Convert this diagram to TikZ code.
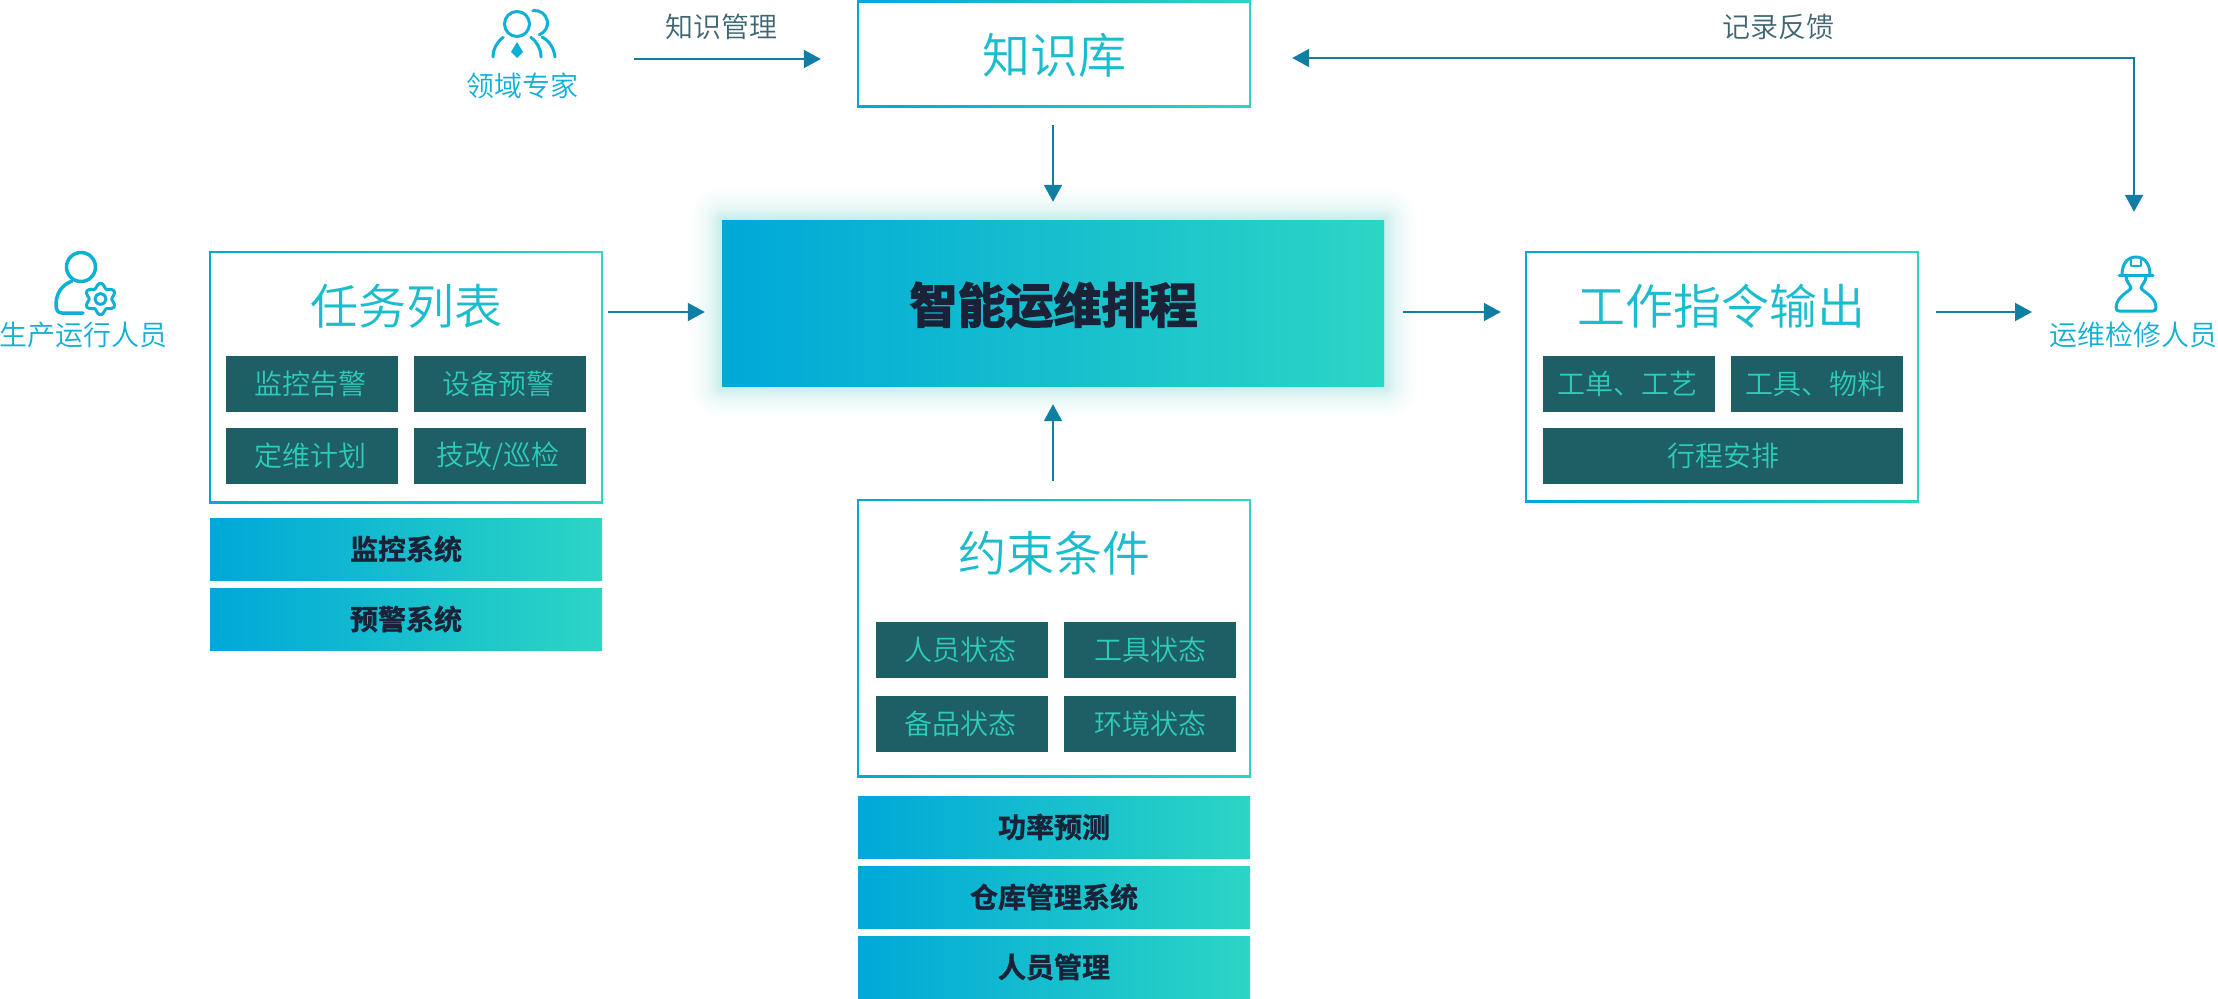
\documentclass[tikz,border=0pt]{standalone}
\usepackage{fontspec}
\usetikzlibrary{arrows.meta}
\newfontfamily\cjk{Noto Sans CJK SC DemiLight}
\newfontfamily\cjkb[FakeBold=1.2]{Noto Sans CJK SC Bold}
\newfontfamily\cjkh[FakeBold=3]{Noto Sans CJK SC Bold}
\definecolor{gl}{HTML}{00A8D8}
\definecolor{gr}{HTML}{2CD5C4}
\definecolor{arr}{HTML}{117EA3}
\definecolor{dk}{HTML}{1E5F66}
\definecolor{chip}{HTML}{2ECBB8}
\definecolor{ink}{HTML}{1A2238}
\definecolor{title}{HTML}{1ABDCD}
\definecolor{lbl}{HTML}{0FB0D6}
\definecolor{note}{HTML}{3F6672}
\tikzset{
  frame/.style={rectangle,inner sep=0pt,left color=gl,right color=gr,
    path picture={\fill[white] ([shift={(2pt,-2pt)}]path picture bounding box.north west) rectangle ([shift={(-2pt,2pt)}]path picture bounding box.south east);}},
  chipbox/.style={rectangle,inner sep=0pt,fill=dk,text=chip,font=\cjk\fontsize{28}{28}\selectfont},
  bar/.style={rectangle,inner sep=0pt,left color=gl,right color=gr,text=ink,font=\cjkb\fontsize{28}{28}\selectfont},
  core/.style={rectangle,inner sep=0pt,left color=gl,right color=gr},
  coretext/.style={inner sep=0pt,text=ink,font=\cjkh\fontsize{48}{48}\selectfont},
  conn/.style={draw=arr,line width=2pt,-{Triangle[length=17pt,width=18pt]}},
  connb/.style={draw=arr,line width=2pt,{Triangle[length=17pt,width=18pt]}-{Triangle[length=17pt,width=18pt]}},
  note/.style={inner sep=0pt,text=note,font=\cjk\fontsize{28}{28}\selectfont},
  who/.style={inner sep=0pt,text=lbl,font=\cjk\fontsize{28}{28}\selectfont},
  icon/.style={draw=lbl,line width=3pt,line cap=round,line join=round},
  hook/.style={inner sep=0pt,minimum width=#1,minimum height=#1},
  frametitle/.style={text=title,font=\cjk\fontsize{48}{48}\selectfont,inner sep=0pt}
}
\newcommand{\bx}[7]{\node[#1,minimum width={(#5-#3)*1pt},minimum height={(#6-#4)*1pt}] (#2) at ({(#3+#5)/2},{(#4+#6)/2}) {#7};}
\begin{document}
\begin{tikzpicture}[x=1pt,y=-1pt]
\useasboundingbox (0,0) rectangle (2218,998);
\fill[white] (0,0) rectangle (2218,998);
% glow
\foreach \i in {1,2,3,4,5,6,7,8,9,10,11,13,15,17,19,22,25,28,32}{
  \fill[gr,opacity=.013,rounded corners={\i*1pt}] (722-\i,220-\i) rectangle (1384+\i,386+\i);
}
\bx{core}{core}{722}{220}{1384}{386}{}
\node[coretext] (coretitle) at (1053.5,305) {智能运维排程};
\bx{frame}{kb}{857}{1}{1251}{107}{}
\bx{frame}{task}{209}{251}{603}{503}{}
\bx{frame}{out}{1525}{251}{1919}{502}{}
\bx{frame}{cons}{857}{499}{1251}{777}{}
\node[frametitle] (kbtitle) at (1054,55) {知识库};
\node[frametitle] (tasktitle) at (406,306) {任务列表};
\node[frametitle] (outtitle) at (1721,306) {工作指令输出};
\node[frametitle] (constitle) at (1054,553) {约束条件};
% task chips
\bx{chipbox}{t1}{226}{356}{398}{412}{监控告警\kern4pt}
\bx{chipbox}{t2}{414}{356}{586}{412}{设备预警\kern4pt}
\bx{chipbox}{t3}{226}{428}{398}{484}{定维计划\kern4pt}
\bx{chipbox}{t4}{414}{428}{586}{484}{技改/巡检\kern4pt}
% output chips
\bx{chipbox}{o1}{1543}{356}{1715}{412}{工单、工艺\kern3pt}
\bx{chipbox}{o2}{1731}{356}{1903}{412}{工具、物料\kern3pt}
\bx{chipbox}{o3}{1543}{428}{1903}{484}{行程安排}
% constraint chips
\bx{chipbox}{c1}{876}{622}{1048}{678}{人员状态\kern4pt}
\bx{chipbox}{c2}{1064}{622}{1236}{678}{工具状态}
\bx{chipbox}{c3}{876}{696}{1048}{752}{备品状态\kern4pt}
\bx{chipbox}{c4}{1064}{696}{1236}{752}{环境状态}
% bars
\bx{bar}{b1}{210}{518}{602}{580}{监控系统}
\bx{bar}{b2}{210}{588}{602}{650}{预警系统}
\bx{bar}{b3}{858}{796}{1250}{858}{功率预测}
\bx{bar}{b4}{858}{866}{1250}{928}{仓库管理系统}
\bx{bar}{b5}{858}{936}{1250}{998}{人员管理}
% labels
\node[who] (expertl) at (522,86) {领域专家};
\node[who] (operl) at (83,335) {生产运行人员};
\node[who] (maintl) at (2133,335) {运维检修人员};
\node[note] (n1) at (721,27) {知识管理};
\node[note] (n2) at (1778,27) {记录反馈};
% icon anchors
\node[hook=44pt] (experti) at (522,36) {};
\node[hook=44pt] (operi) at (85,290) {};
\node[hook=44pt] (mainti) at (2134,285) {};
\coordinate (maintin) at (2032,312);
\coordinate (expertout) at (634,59);
% expert icon
\begin{scope}[shift={(517,24)},y=1pt,icon]
\draw (0,0) circle[radius=12.5pt];
\draw (18,1) ++(100:12.5pt) arc[start angle=100,end angle=-70,radius=12.5pt];
\draw (-24,-33) arc[start angle=180,end angle=125,radius=24pt];
\draw (24,-33) arc[start angle=0,end angle=55,radius=24pt];
\draw (25,-13) .. controls (33,-17) and (37,-25) .. (38,-33);
\fill[lbl,draw=none] (0,-18) -- (6,-28) -- (0,-34) -- (-6,-28) -- cycle;
\end{scope}
% operator icon
\begin{scope}[icon]
\draw[line width=3.5pt] (81,267) circle[radius=14.5pt];
\draw[line width=3.5pt] (72,281) .. controls (62,285) and (56,293) .. (56,305) .. controls (56,310) and (58,313) .. (62,313) -- (83,313);
\end{scope}
\begin{scope}[shift={(100.5,299)},y=1pt,icon]
\draw plot[domain=0:360,samples=73,smooth] (\x:{13.5pt-2.2pt*cos(6*\x)}) -- cycle;
\draw (0,0) circle[radius=5.5pt];
\end{scope}
% worker icon
\begin{scope}[shift={(2136,0)},icon]
\draw (-17,275.5) -- (17,275.5);
\draw (-14,275) .. controls (-14,263) and (-8,257) .. (0,257) .. controls (8,257) and (14,263) .. (14,275);
\draw[line width=2.5pt] (-5,259) -- (-5,266) -- (5,266) -- (5,259);
\draw (-10,276) .. controls (-10,282) and (-6,284) .. (-5,288) .. controls (-7,292) and (-19,296) .. (-20,307) .. controls (-20,310) and (-19,311) .. (-17,311) -- (17,311) .. controls (19,311) and (20,310) .. (20,307) .. controls (19,296) and (7,292) .. (5,288) .. controls (6,284) and (10,282) .. (10,276);
\end{scope}
% connectors
\draw[conn,shorten <=5pt,shorten >=17pt] ([yshift=65pt]task.east) -- ([yshift=-9pt]core.west);
\draw[conn,shorten <=19pt,shorten >=24pt] ([yshift=-9pt]core.east) -- ([yshift=64.5pt]out.west);
\draw[conn,shorten <=17pt] ([yshift=64.5pt]out.east) -- (maintin);
\draw[conn,shorten <=18pt,shorten >=18pt] (core.north |- kb.south) -- (core.north);
\draw[conn,shorten <=18pt,shorten >=18pt] (core.south |- cons.north) -- (core.south);
\draw[conn,shorten >=36pt] (expertout) -- ([yshift=-5pt]kb.west);
\draw[connb,shorten <=41pt,shorten >=51pt] ([yshift=-4pt]kb.east) -| (mainti.north);
\end{tikzpicture}
\end{document}
